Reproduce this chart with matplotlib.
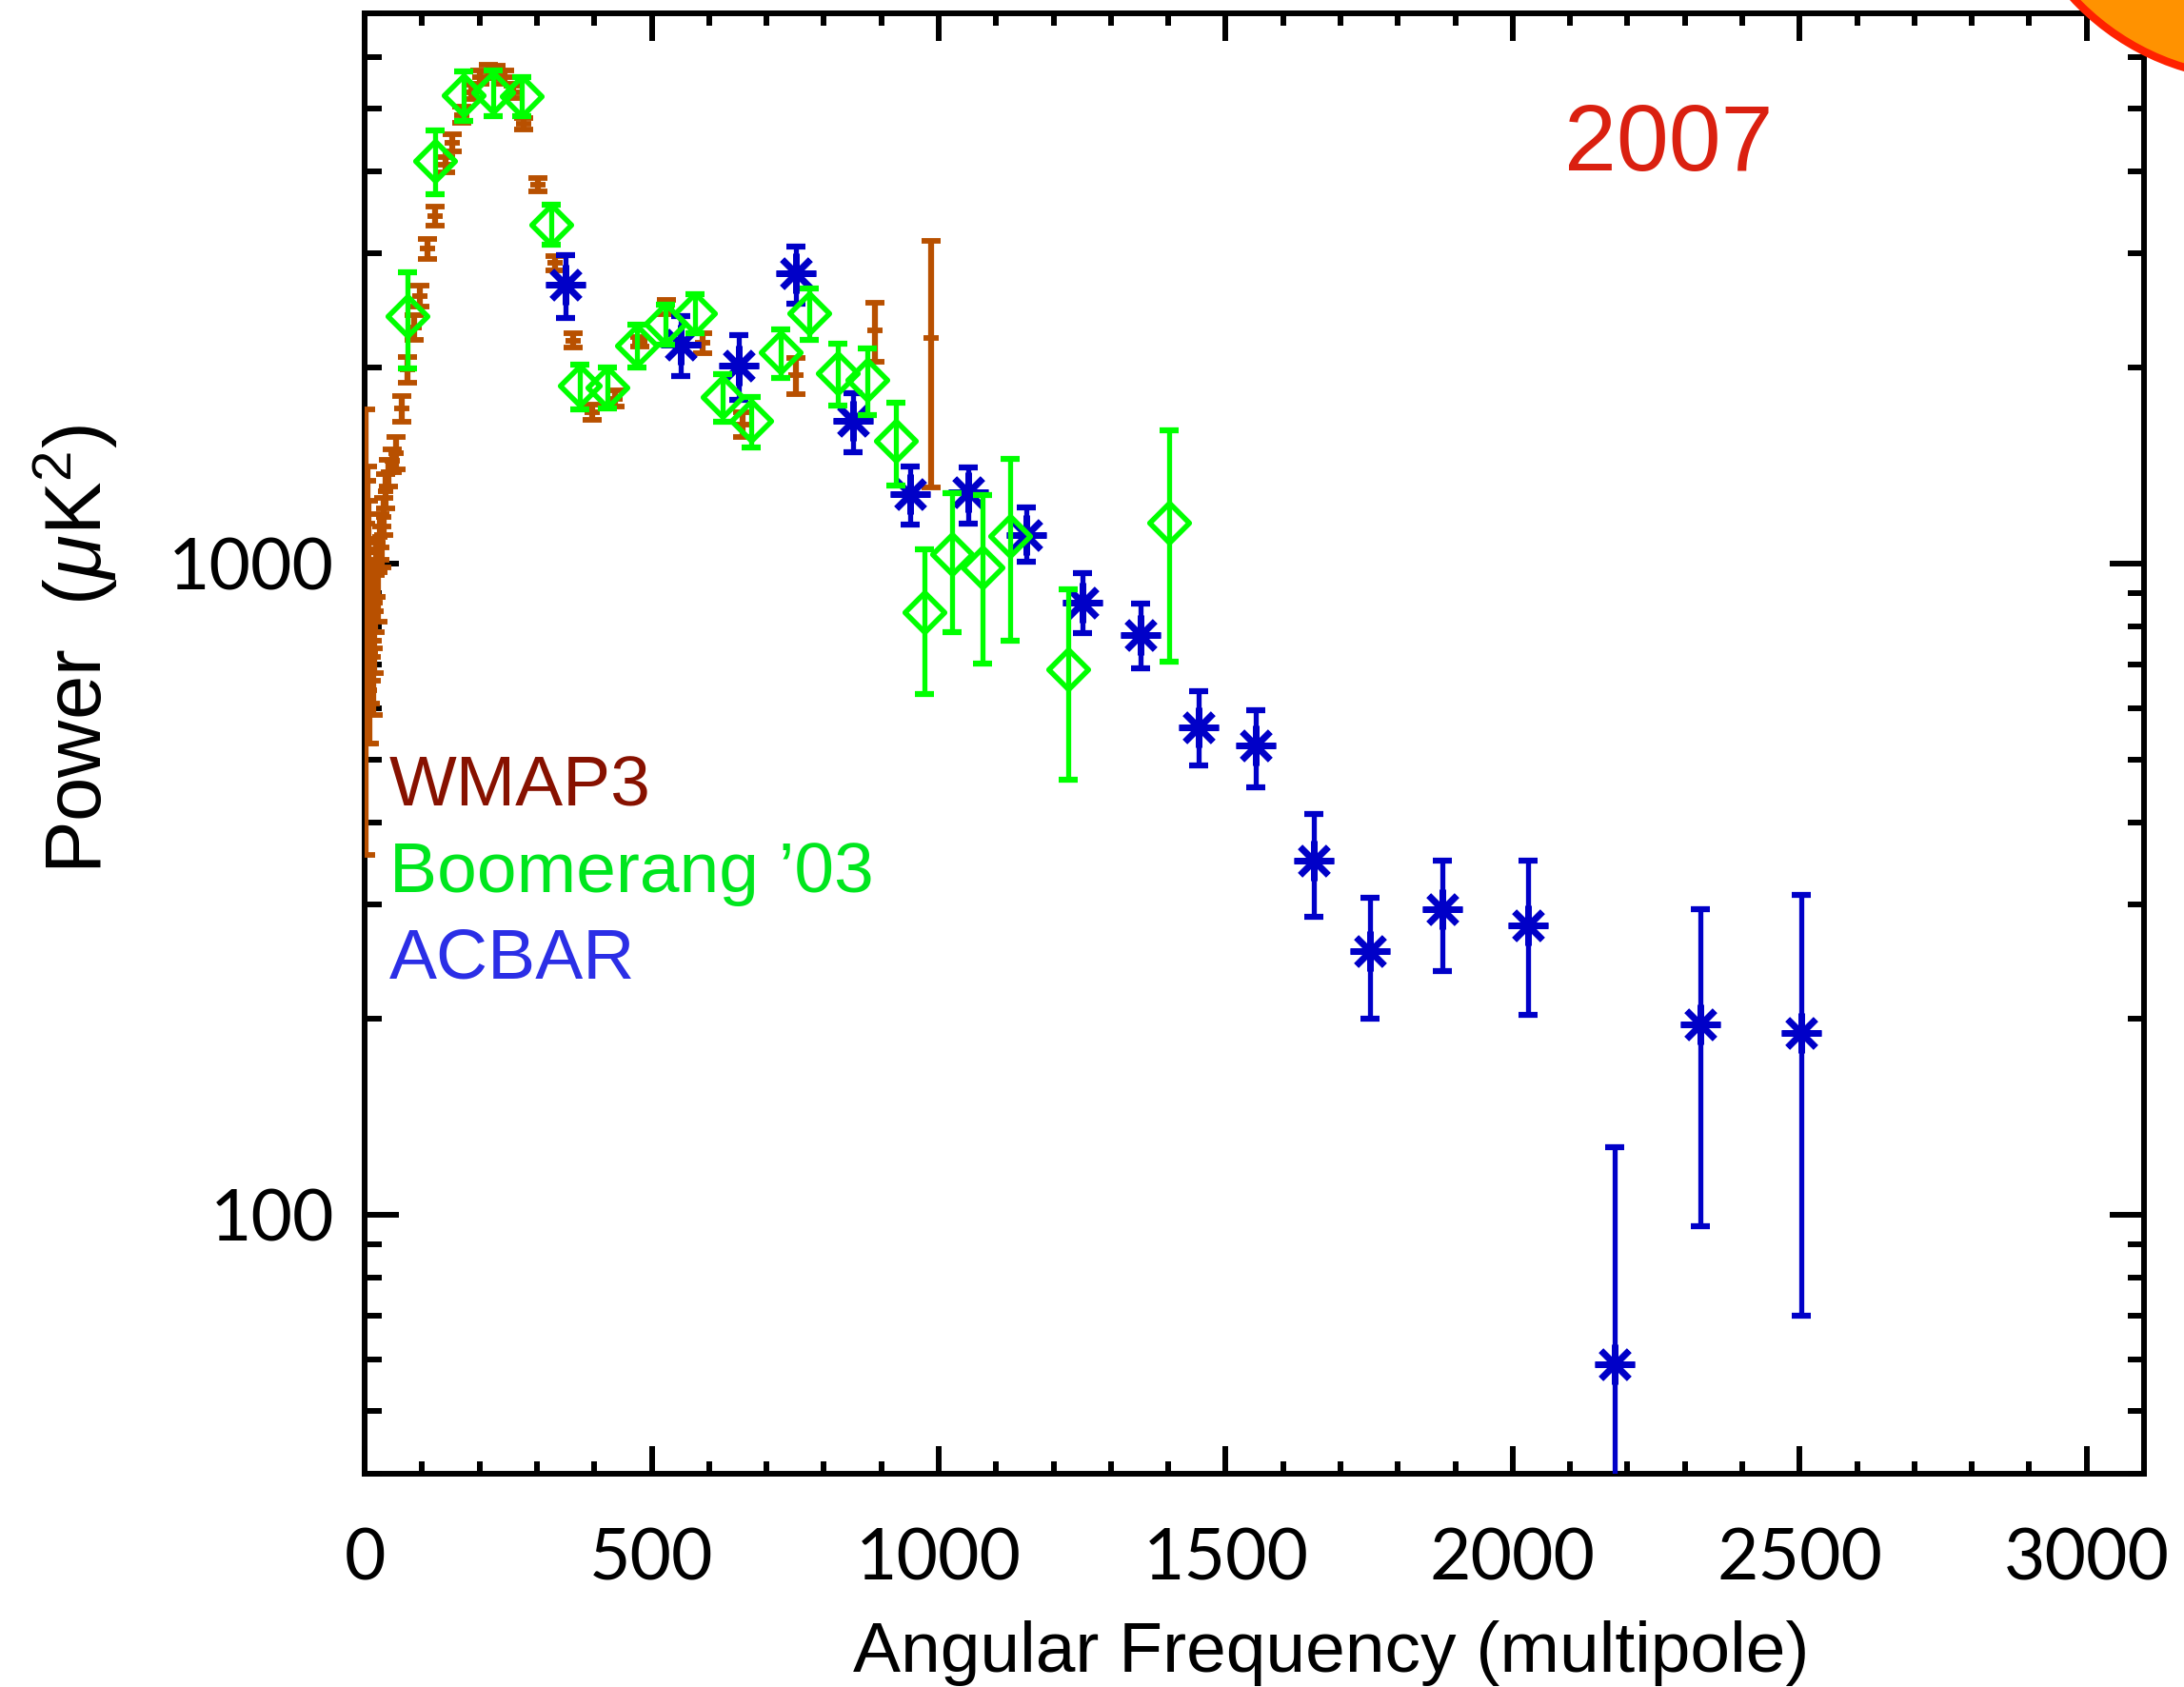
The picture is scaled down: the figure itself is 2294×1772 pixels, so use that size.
import matplotlib
matplotlib.use('Agg')
import matplotlib.pyplot as plt
from matplotlib.patches import Ellipse
from matplotlib.ticker import MultipleLocator, FixedLocator, LogLocator, NullFormatter, FuncFormatter

plt.rcParams['font.family'] = ['Liberation Sans', 'DejaVu Sans']
plt.rcParams['mathtext.fontset'] = 'custom'
plt.rcParams['mathtext.rm'] = 'Liberation Sans'
plt.rcParams['mathtext.it'] = 'Liberation Sans:italic'

# WMAP3 binned spectrum (multipole, power, lower / upper error)
wmap_l = [2, 3, 4, 5, 6, 7, 8, 9, 10, 12, 14, 16, 18, 20, 23, 26, 29, 33, 37, 42,
          48, 55, 64, 74, 86, 96, 109, 123, 140, 153, 169, 186, 201, 215, 229, 243,
          258, 277, 302, 331, 363, 397, 436, 480, 525, 588, 658, 752, 889, 986]
wmap_p = [1040, 1040, 700, 1150, 900, 1050, 640, 720, 880, 820, 660, 760, 870, 980,
          890, 1100, 1060, 1180, 1290, 1380, 1440, 1480, 1730, 1985, 2307, 2575, 3045,
          3415, 4100, 4430, 4890, 5300, 5590, 5700, 5690, 5580, 5300, 4740, 3820, 2895,
          2200, 1710, 1793, 2194, 2475, 2180, 1636, 1947, 2279, 2220]
wmap_elo = [683, 260, 170, 230, 170, 180, 110, 110, 120, 100, 75, 80, 85, 90, 75, 85,
            75, 75, 75, 65, 60, 85, 80, 90, 100, 95, 110, 115, 105, 135, 140, 130, 130,
            130, 130, 130, 120, 95, 85, 75, 55, 45, 50, 37, 62, 75, 70, 125, 235, 910]
wmap_ehi = [683, 300, 200, 260, 190, 200, 120, 120, 130, 110, 80, 85, 90, 95, 80, 90,
            80, 80, 80, 65, 60, 85, 80, 90, 100, 95, 110, 115, 105, 135, 140, 130, 130,
            130, 130, 130, 120, 95, 85, 75, 55, 45, 50, 37, 62, 75, 70, 125, 235, 910]

# Boomerang '03
boom_l = [74, 123, 172, 223, 274, 325, 374, 423, 474, 524, 575, 623, 674, 725, 775,
          824, 875, 925, 975, 1024, 1076, 1125, 1225, 1401]
boom_p = [2399, 4155, 5238, 5285, 5226, 3320, 1875, 1865, 2162, 2333, 2426, 1803, 1657,
          2109, 2427, 1963, 1916, 1542, 841, 1033, 988, 1104, 689, 1155]
boom_err = [406, 464, 453, 427, 362, 232, 147, 135, 162, 163, 169, 151, 148, 183, 218,
            215, 224, 222, 210, 249, 287, 342, 224, 447]

# ACBAR
acbar_l = [350, 550, 651, 751, 851, 950, 1052, 1152, 1251, 1351, 1453, 1552, 1653, 1752,
           1877, 2027, 2177, 2327, 2503]
acbar_p = [2678, 2169, 2017, 2791, 1655, 1277, 1285, 1108, 871, 778, 561, 525, 350, 254,
           295, 278, 59, 196, 190]
acbar_elo = [292, 230, 235, 283, 173, 129, 133, 102, 88, 88, 72, 72, 63, 54, 58, 75, 58,
             100, 120]
acbar_ehi = [297, 230, 227, 279, 169, 133, 121, 113, 97, 91, 76, 70, 63, 53, 55, 72, 68,
             99, 120]

c_wmap = '#B85000'
c_boom = '#00FF00'
c_acbar = '#0000C8'

fig = plt.figure(figsize=(22.94, 17.72), dpi=100)
ax = fig.add_axes([0.1670, 0.1264, 0.8147, 0.8657])

ax.errorbar(wmap_l, wmap_p, yerr=[wmap_elo, wmap_ehi], fmt='_', color=c_wmap,
            ms=11, mew=4.2, elinewidth=4.5, capsize=7.5, capthick=4.2, zorder=3)

ax.errorbar(acbar_l, acbar_p, yerr=[acbar_elo, acbar_ehi], fmt='none', ecolor=c_acbar,
            elinewidth=3.8, capsize=7.5, capthick=4.5, zorder=4)
ax.plot(acbar_l, acbar_p, ls='none', marker=(8, 2, 0), ms=30, mew=4.8,
        color=c_acbar, zorder=4)

diamond = [(0, 1), (1, 0), (0, -1), (-1, 0), (0, 1)]
ax.errorbar(boom_l, boom_p, yerr=boom_err, fmt='none', ecolor=c_boom,
            elinewidth=3.8, capsize=7.5, capthick=4.5, zorder=5)
ax.plot(boom_l, boom_p, ls='none', marker=diamond, ms=30, mew=4,
        mfc='none', mec=c_boom, zorder=5)

ax.set_yscale('log')
ax.set_xlim(0, 3100)
ax.set_ylim(40, 7000)

ax.xaxis.set_major_locator(MultipleLocator(500))
ax.xaxis.set_minor_locator(MultipleLocator(100))
ax.yaxis.set_major_locator(FixedLocator([100, 1000]))
ax.yaxis.set_major_formatter(FuncFormatter(lambda v, pos: '%d' % v))
ax.yaxis.set_minor_locator(LogLocator(base=10, subs=range(2, 10)))
ax.yaxis.set_minor_formatter(NullFormatter())

for s in ax.spines.values():
    s.set_linewidth(4.3)

ax.tick_params(which='both', direction='in', top=True, right=True, width=4.3,
               labelsize=54, labelfontfamily='Lato')
ax.tick_params(axis='x', which='major', length=21, pad=40)
ax.tick_params(axis='x', which='minor', length=9.5)
ax.tick_params(axis='y', which='major', length=26, pad=23)
ax.tick_params(axis='y', which='minor', length=12.6)

fig.text(0.6097, 1 - 1756 / 1772, 'Angular Frequency (multipole)', fontsize=54,
         ha='center', va='baseline')
fig.text(80 / 2294, 0.615, r'Power  ($\mu$K$^2$)', rotation=90, fontsize=60,
         ha='center', va='center')

fig.text(409 / 2294, 1 - 847 / 1772, 'WMAP3', color='#871100', fontsize=54,
         ha='left', va='baseline')
fig.text(409 / 2294, 1 - 937 / 1772, 'Boomerang \u201903', color='#00E61E', fontsize=54,
         ha='left', va='baseline')
fig.text(409 / 2294, 1 - 1028 / 1772, 'ACBAR', color='#2B2EE6', fontsize=54,
         ha='left', va='baseline')
fig.text(1643 / 2294, 1 - 179 / 1772, '2007', color='#DA2010', fontsize=71,
         ha='left', va='baseline')

# orange disc peeking in at the top right corner
sun = Ellipse((2370 / 2294, 1 + 180 / 1772), 2 * 262 / 2294, 2 * 262 / 1772,
              transform=fig.transFigure, facecolor='#FF9200', edgecolor='#FF2200',
              linewidth=6, clip_on=False)
fig.add_artist(sun)

fig.savefig('out.png', dpi=100)
